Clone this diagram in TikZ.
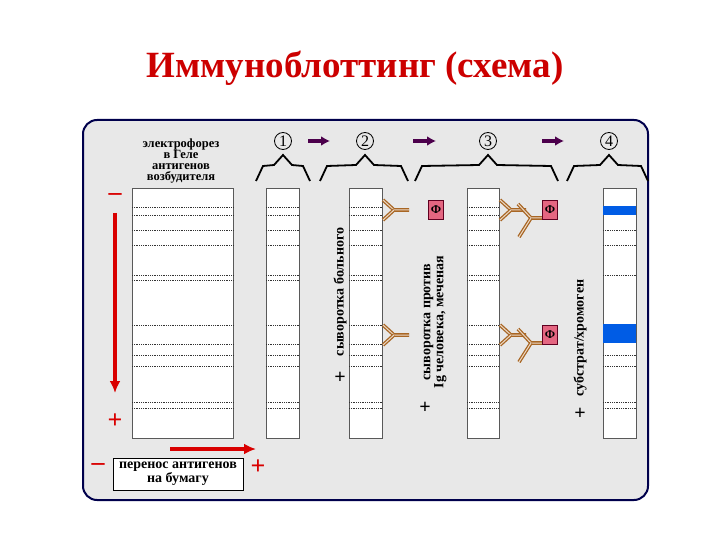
\documentclass[tikz,border=0pt]{standalone}
\usepackage{fontspec}
\setmainfont{Liberation Serif}
\usetikzlibrary{arrows.meta}
\begin{document}
\begin{tikzpicture}[x=1pt,y=-1pt,
 strip/.style={draw=gray!70!black,fill=white,line width=0.8pt},
 band/.style={densely dotted,line width=0.8pt,black!80},
 brace/.style={line width=1.8pt,black},
 stepar/.style={-{Latex[length=9pt,width=10pt]},line width=4pt,violet!60!black},
 redarr/.style={-{Latex[length=12pt,width=11pt]},line width=3.5pt,red!85!black},
 sign/.style={text=red!85!black,font=\fontsize{26}{26}\selectfont\bfseries,inner sep=0pt},
 bsign/.style={text=black,font=\fontsize{20}{20}\selectfont\bfseries,inner sep=0pt},
 lbl/.style={font=\fontsize{12.5}{11}\selectfont\bfseries,align=center,inner sep=1pt},
 vlbl/.style={font=\fontsize{14}{13}\selectfont\bfseries,rotate=90,align=center,inner sep=1pt},
 ab/.style={line width=1.3pt,draw=brown!70!orange!80!black,double=brown!30!white,double distance=1pt},
 fbox/.style={fill=purple!70!red!60,draw=purple!50!black,minimum width=15pt,minimum height=19pt,inner sep=0pt,font=\bfseries\large},
 num/.style={circle,draw,line width=0.8pt,inner sep=0.5pt,minimum size=17pt,font=\fontsize{16}{16}\selectfont}]
\useasboundingbox (0,0) rectangle (720,540);
\node (title) at (355,68) {\textcolor{red!80!black}{\fontsize{37}{40}\selectfont\bfseries Иммуноблоттинг (схема)}};
\draw[rounded corners=14pt,fill=black!9,draw=blue!30!black,line width=2pt] (83,120) rectangle (648,500);
% strips
\foreach \n/\a/\b in {gel/132/233,s1/266/299,s2/349/382,s3/467/499,s4/603/636}{
  \draw[strip] (\a,188) rectangle (\b,438);
}
\foreach \a/\b in {132/233,266/299,349/382,467/499}{
  \foreach \y in {207,215,230,245,275,280,325,344,355,366,402,408}
    \draw[band] (\a,\y) -- (\b,\y);
}
\foreach \y in {230,245,275,355,366,402,408}
  \draw[band] (603,\y) -- (636,\y);
\fill[blue!60!cyan!90!black] (603,206) rectangle (636,215);
\fill[blue!60!cyan!90!black] (603,324) rectangle (636,343);
% gel label
\node[lbl] (gl) at (181,161) {электрофорез\\в Геле\\антигенов\\возбудителя};
% braces and numbers
\foreach \l/\p/\r/\k in {256/283/310/1,320/365/408/2,415/488/558/3,567/609/648/4}{
  \draw[brace] (\l,181) -- (\l+7,166) -- (\p-9,165) -- (\p,155) -- (\p+9,165) -- (\r-7,166) -- (\r,181);
  \node[num] (n\k) at (\p,141) {\k};
}
\draw[stepar] (308,141) -- (330,141);
\draw[stepar] (413,141) -- (436,141);
\draw[stepar] (542,141) -- (564,141);
% red signs and arrows
\node[sign] (m1) at (115,197) {–};
\coordinate (v1) at (115,213);
\coordinate (v2) at (115,393);
\draw[redarr] (v1) -- (v2);
\node[sign] (p1) at (115,421) {+};
\coordinate (h1) at (170,449);
\coordinate (h2) at (256,449);
\draw[redarr] (h1) -- (h2);
\node[sign] (m2) at (98,467) {–};
\node[draw,fill=white,line width=1pt,font=\fontsize{14}{12}\selectfont\bfseries,align=center,inner sep=2pt,minimum width=130pt,minimum height=32pt] (box) at (178,474) {перенос антигенов\\на бумагу};
\node[sign] (p2) at (258,467) {+};
% vertical labels
\node[vlbl] (v2l) at (340,292) {сыворотка больного};
\node[bsign] (v2p) at (340,378) {+};
\node[vlbl] (v3l) at (435,322) {сыворотка против\\Ig человека, меченая};
\node[bsign] (v3p) at (425,408) {+};
\node[vlbl] (v4l) at (580,338) {субстрат/хромоген};
\node[bsign] (v4p) at (580,414) {+};
% antibodies on strip 2 and 3
\foreach \x/\y in {383/210,383/335,500/210,500/335}{
  \draw[ab] (\x,\y-10) -- (\x+11,\y) -- (\x+26,\y);
  \draw[ab] (\x,\y+10) -- (\x+11,\y);
}
% secondary antibodies
\foreach \y in {210,335}{
  \draw[ab] (518,\y-6) -- (531,\y+8) -- (548,\y+8);
  \draw[ab] (519,\y+27) -- (531,\y+8);
  \node[fbox] (f\y) at (550,\y) {Ф};
}
\node[fbox] (f0) at (436,210) {Ф};
\end{tikzpicture}
\end{document}
